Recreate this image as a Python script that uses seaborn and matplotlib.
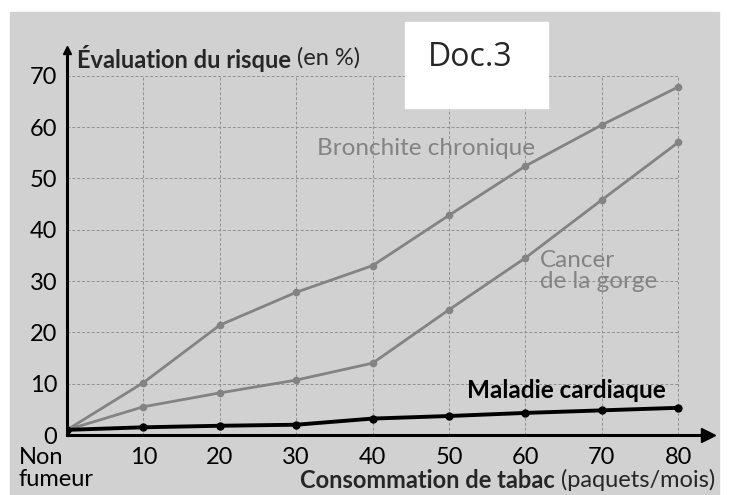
import matplotlib
matplotlib.use("Agg")
import matplotlib.pyplot as plt
import matplotlib.transforms as mtransforms
from matplotlib.patches import Rectangle
import seaborn as sns
import pandas as pd

# values
consommation = [0, 10, 20, 30, 40, 50, 60, 70, 80]
x_labels = ["Non\nfumeur", "10", "20", "30", "40", "50", "60", "70", "80"]
bronchite = [1, 10.2, 21.4, 27.8, 33, 42.8, 52.4, 60.4, 67.8]
cancer = [1, 5.5, 8.2, 10.7, 14, 24.4, 34.5, 45.8, 57]
cardiaque = [1, 1.5, 1.8, 2, 3.2, 3.7, 4.3, 4.8, 5.3]
y_ticks = [0, 10, 20, 30, 40, 50, 60, 70]

df = pd.DataFrame({"x": consommation, "Bronchite chronique": bronchite,
                   "Cancer de la gorge": cancer, "Maladie cardiaque": cardiaque})

sns.set_style("white")
plt.rcParams["font.family"] = ["Lato", "DejaVu Sans"]

BG = "#d1d1d1"
GREY = "#838383"
FS = 17

fig = plt.figure(figsize=(7.29, 4.95), dpi=100, facecolor="white")
fig.patches.append(Rectangle((10 / 729, 0), 709 / 729, 483 / 495,
                             transform=fig.transFigure, color=BG, zorder=-5))
ax = fig.add_axes([67 / 729, 60 / 495, 641 / 729, 385 / 495])
ax.set_facecolor("none")
ax.set_xlim(0, 83.9)
ax.set_ylim(0, 75.0)

# dashed grid limited to the tick range
ax.hlines(y_ticks[1:], 0, consommation[-1], colors="#919191", linestyles=(0, (3, 2)),
          linewidth=0.7, zorder=1)
ax.vlines(consommation[1:], 0, y_ticks[-1], colors="#919191", linestyles=(0, (3, 2)),
          linewidth=0.7, zorder=1)

sns.lineplot(data=df, x="x", y="Bronchite chronique", ax=ax, color=GREY, lw=2,
             marker="o", markersize=5.5, markeredgewidth=0, zorder=3)
sns.lineplot(data=df, x="x", y="Cancer de la gorge", ax=ax, color=GREY, lw=2,
             marker="o", markersize=5.5, markeredgewidth=0, zorder=3)
sns.lineplot(data=df, x="x", y="Maladie cardiaque", ax=ax, color="black", lw=2.8,
             marker="o", markersize=6, markeredgewidth=0, zorder=4)

# axes as arrows
for side in ["top", "right"]:
    ax.spines[side].set_visible(False)
for side in ["left", "bottom"]:
    ax.spines[side].set_linewidth(2.2)
    ax.spines[side].set_color("black")
    ax.spines[side].set_zorder(5)
ax.plot(1, 0, ">", color="black", markersize=10, transform=ax.transAxes, clip_on=False, zorder=6)
ax.plot(0, 1, "^", color="black", markersize=6, transform=ax.transAxes, clip_on=False, zorder=6)

ax.set_xticks(consommation)
ax.set_xticklabels(x_labels, fontsize=FS, linespacing=1.05)
ax.set_yticks(y_ticks)
ax.set_yticklabels([str(v) for v in y_ticks], fontsize=FS)
ax.tick_params(axis="x", direction="out", length=8, width=1.3, pad=1, colors="black")
ax.tick_params(axis="y", direction="out", length=5, width=1.3, pad=2, colors="black")
lab0 = ax.get_xticklabels()[0]
lab0.set_multialignment("left")
lab0.set_transform(lab0.get_transform() + mtransforms.ScaledTranslation(-11 / 100, 0, fig.dpi_scale_trans))
ax.set_xlabel("")
ax.set_ylabel("")

# axis titles (bold part + normal part)
t1 = fig.text(77 / 729, 1 - 58 / 495, "Évaluation du risque", fontsize=FS,
              fontweight="bold", va="center", ha="left")
ax.annotate(" (en %)", xy=(1, 0.5), xycoords=t1, fontsize=FS, va="center", ha="left",
            annotation_clip=False)
t2 = fig.text(715 / 729, 1 - 480 / 495, " (paquets/mois)", fontsize=FS,
              va="center", ha="right")
ax.annotate("Consommation de tabac", xy=(0, 0.5), xycoords=t2, fontsize=FS,
            fontweight="bold", va="center", ha="right", annotation_clip=False)

# series labels
ax.text(47, 55.8, "Bronchite chronique", fontsize=17.5, color=GREY, ha="center", va="center")
ax.text(61.9, 32, "Cancer\nde la gorge", fontsize=17.5, color=GREY, ha="left", va="center",
        linespacing=1.0)
ax.text(65.4, 8.6, "Maladie cardiaque", fontsize=17.5, fontweight="bold", color="black",
        ha="center", va="center")

# "Doc.3" white box
fig.patches.append(Rectangle((405 / 729, 1 - 108 / 495), 143 / 729, 86 / 495,
                             transform=fig.transFigure, color="white", zorder=10))
fig.text(470 / 729, 1 - 57 / 495, "Doc.3", fontsize=23, ha="center", va="center",
         family=["Open Sans", "DejaVu Sans"], zorder=11)

fig.savefig("out.png", dpi=100, facecolor="white")
